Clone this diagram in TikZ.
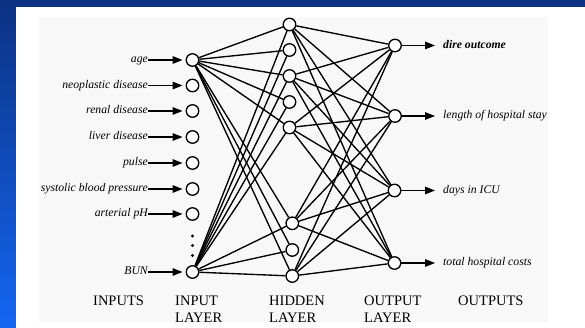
\documentclass[tikz,border=0pt]{standalone}
\usepackage{fontspec}
\setmainfont{Liberation Serif}
\usetikzlibrary{arrows.meta}
\definecolor{navy}{HTML}{0B3282}
\definecolor{brightblue}{HTML}{1466F2}
\definecolor{panelgray}{HTML}{F8F8F8}
\tikzset{
  neuron/.style={circle, draw, line width=1.35pt, fill=white, minimum size=12.5pt, inner sep=0pt},
  link/.style={line width=1.35pt},
  feed/.style={line width=1.35pt, -{Triangle[length=10pt,width=7.5pt]}},
  varlabel/.style={inner sep=0pt, font=\fontsize{11.7}{13}\selectfont\itshape, text height=8pt, text depth=2.5pt},
  inlabel/.style={varlabel, anchor=east},
  outlabel/.style={varlabel, anchor=west},
  layerlabel/.style={anchor=north west, align=left, inner sep=0pt, font=\fontsize{14.5}{17}\selectfont}
}
\begin{document}
\begin{tikzpicture}[x=1pt, y=-1pt]
  % slide background and panels
  \useasboundingbox (0,0) rectangle (585,328);
  \shade[top color=navy, bottom color=brightblue] (0,0) rectangle (585,328);
  \fill[navy] (0,0) rectangle (585,7);
  \fill[white] (16,7) rectangle (585,328);
  \fill[panelgray] (39,17) rectangle (548,322);

  % input layer
  \foreach \n/\y in {1/60, 2/85.5, 3/111, 4/137, 5/163, 6/189, 7/214, 8/272}
    \node[neuron] (I\n) at (192.5,\y) {};
  % hidden layer
  \foreach \n/\x/\y in {1/289.5/24.5, 2/289.5/50, 3/289.5/76, 4/289.5/102, 5/289.5/127.5,
                        6/292.3/223.3, 7/292.3/250, 8/292.3/276}
    \node[neuron] (H\n) at (\x,\y) {};
  % output layer
  \foreach \n/\x/\y in {1/395/45.5, 2/395/116, 3/394.5/190.5, 4/394.5/263}
    \node[neuron] (O\n) at (\x,\y) {};

  % omitted inputs
  \foreach \y in {236, 245.5, 255.5}
    \fill (192.5,\y) circle (1.7pt);

  % input variables
  \foreach \n/\txt in {1/age, 2/neoplastic disease, 3/renal disease, 4/liver disease,
                       5/pulse, 6/systolic blood pressure, 7/arterial pH, 8/BUN}
  {
    \path (I\n) ++(-44.5,0) node[inlabel] (L\n) {\txt};
    \draw[feed, shorten >=3pt] (L\n.east) -- (I\n);
  }

  % output variables
  \path (O1) ++(48,0) node[outlabel] (R1) {\bfseries dire outcome};
  \path (O2) ++(48,0) node[outlabel] (R2) {length of hospital stay};
  \path (O3) ++(48.5,0) node[outlabel] (R3) {days in ICU};
  \path (O4) ++(48.5,0) node[outlabel] (R4) {total hospital costs};
  \foreach \n in {1,...,4}
    \draw[feed, shorten >=8pt] (O\n) -- (R\n.west);

  % weights: input -> hidden
  \foreach \h in {1,...,8}
  {
    \draw[link] (I1) -- (H\h);
    \draw[link] (I8) -- (H\h);
  }
  % weights: hidden -> output
  \foreach \h in {1,3,5,6,8}
    \foreach \o in {1,...,4}
      \draw[link] (H\h) -- (O\o);

  % column captions
  \node[layerlabel] (capA) at (93,295.5) {INPUTS};
  \node[layerlabel] (capB) at (175,295.5) {INPUT\\LAYER};
  \node[layerlabel] (capC) at (269,295.5) {HIDDEN\\LAYER};
  \node[layerlabel] (capD) at (364,295.5) {OUTPUT\\LAYER};
  \node[layerlabel] (capE) at (458,295.5) {OUTPUTS};
\end{tikzpicture}
\end{document}
